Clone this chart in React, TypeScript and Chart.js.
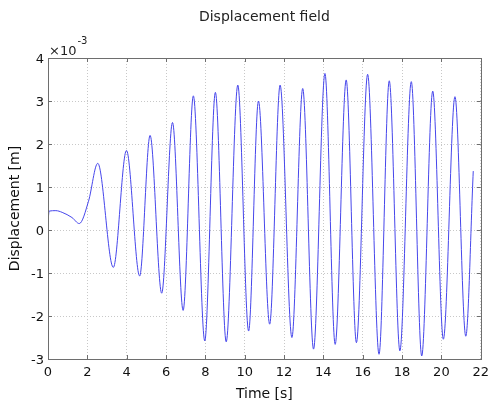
import React, { useEffect, useRef } from "react";
import { Chart, registerables } from "chart.js";

Chart.register(...registerables);

// Time [s] of key points (extrema and shape points)
const TIMES = [
  0, 0.06, 0.4, 0.72, 1.22, 1.59, 2.06, 2.53, 3.32, 3.99, 4.66, 5.19, 5.78,
  6.33, 6.87, 7.39, 7.97, 8.51, 9.06, 9.65, 10.2, 10.7, 11.27, 11.8, 12.4,
  12.95, 13.5, 14.08, 14.6, 15.16, 15.68, 16.25, 16.83, 17.35, 17.89, 18.47,
  19.0, 19.56, 20.1, 20.69, 21.24, 21.62,
];

// Displacement in units of 1e-3 m
const DISPLACEMENT = [
  0.2, 0.44, 0.45, 0.41, 0.29, 0.15, 0.67, 1.55, -0.87, 1.85, -1.07, 2.2,
  -1.47, 2.5, -1.87, 3.12, -2.58, 3.2, -2.6, 3.37, -2.35, 3.0, -2.19, 3.37,
  -2.5, 3.29, -2.77, 3.64, -2.66, 3.49, -2.62, 3.62, -2.89, 3.47, -2.81, 3.45,
  -2.93, 3.23, -2.54, 3.1, -2.47, 1.37,
];

const X_TICKS = [0, 2, 4, 6, 8, 10, 12, 14, 16, 18, 20, 22];
const Y_TICKS = [-3, -2, -1, 0, 1, 2, 3, 4];

const TITLE = "Displacement field";
const X_LABEL = "Time [s]";
const Y_LABEL = "Displacement [m]";
const EXP_BASE = "\u00d710";
const EXP_POWER = "-3";

const FONT = "'DejaVu Sans', sans-serif";

const framePlugin = {
  id: "frame",
  afterDatasetsDraw(chart: any) {
    const { ctx, chartArea: a, scales } = chart;
    ctx.save();
    ctx.strokeStyle = "#6e6e6e";
    ctx.lineWidth = 1;
    ctx.beginPath();
    for (const v of X_TICKS) {
      const px = Math.round(scales.x.getPixelForValue(v)) + 0.5;
      ctx.moveTo(px, a.bottom);
      ctx.lineTo(px, a.bottom - 4);
      ctx.moveTo(px, a.top);
      ctx.lineTo(px, a.top + 4);
    }
    for (const v of Y_TICKS) {
      const py = Math.round(scales.y.getPixelForValue(v)) + 0.5;
      ctx.moveTo(a.left, py);
      ctx.lineTo(a.left + 4, py);
      ctx.moveTo(a.right, py);
      ctx.lineTo(a.right - 4, py);
    }
    ctx.stroke();
    ctx.strokeRect(
      Math.round(a.left) + 0.5,
      Math.round(a.top) + 0.5,
      Math.round(a.right - a.left),
      Math.round(a.bottom - a.top)
    );
    ctx.fillStyle = "#222";
    ctx.textAlign = "left";
    ctx.textBaseline = "alphabetic";
    ctx.font = "13px " + FONT;
    ctx.fillText(EXP_BASE, a.left + 1, a.top - 3);
    const w = ctx.measureText(EXP_BASE).width;
    ctx.font = "10px " + FONT;
    ctx.fillText(EXP_POWER, a.left + 1 + w + 1, a.top - 14);
    ctx.restore();
  },
};

export default function App() {
  const ref = useRef<HTMLCanvasElement | null>(null);

  useEffect(() => {
    if (!ref.current) return;
    const points = TIMES.map((t, i) => ({ x: t, y: DISPLACEMENT[i] }));
    const chart = new Chart(ref.current, {
      type: "line",
      data: {
        datasets: [
          {
            data: points,
            borderColor: "rgb(70,70,235)",
            borderWidth: 1,
            pointRadius: 0,
            cubicInterpolationMode: "monotone",
            fill: false,
          },
        ],
      },
      options: {
        responsive: false,
        animation: false,
        layout: { padding: { left: 0, right: 0, top: 0, bottom: 0 } },
        plugins: {
          legend: { display: false },
          tooltip: { enabled: false },
          title: {
            display: true,
            text: TITLE,
            fullSize: false,
            color: "#222",
            font: { family: FONT, size: 14, weight: "normal" },
            padding: { top: 8.5, bottom: 32.7 },
          },
        },
        scales: {
          x: {
            type: "linear",
            min: 0,
            max: 22,
            afterBuildTicks: (s: any) => {
              s.ticks = X_TICKS.map((v) => ({ value: v }));
            },
            afterFit: (s: any) => {
              s.height = 45;
            },
            ticks: {
              color: "#111",
              font: { family: FONT, size: 13 },
              padding: 6,
              maxRotation: 0,
              autoSkip: false,
            },
            grid: {
              color: "#c8c8c8",
              drawTicks: false,
            },
            border: { display: false, dash: [1, 2] },
            title: {
              display: true,
              text: X_LABEL,
              color: "#111",
              font: { family: FONT, size: 14 },
              padding: { top: 0, bottom: 1 },
            },
          },
          y: {
            type: "linear",
            min: -3,
            max: 4,
            afterBuildTicks: (s: any) => {
              s.ticks = Y_TICKS.map((v) => ({ value: v }));
            },
            afterFit: (s: any) => {
              s.width = 48;
            },
            ticks: {
              color: "#111",
              font: { family: FONT, size: 13 },
              padding: 4,
              labelOffset: 2,
              autoSkip: false,
            },
            grid: {
              color: "#c8c8c8",
              drawTicks: false,
            },
            border: { display: false, dash: [1, 2] },
            title: {
              display: true,
              text: Y_LABEL,
              color: "#111",
              font: { family: FONT, size: 14 },
              padding: { top: 7, bottom: 0 },
            },
          },
        },
      },
      plugins: [framePlugin],
    } as any);
    return () => chart.destroy();
  }, []);

  return (
    <div style={{ position: "fixed", left: 0, top: 0, width: 495, height: 404, background: "#fff" }}>
      <canvas ref={ref} width={495} height={404} style={{ display: "block" }} />
    </div>
  );
}
